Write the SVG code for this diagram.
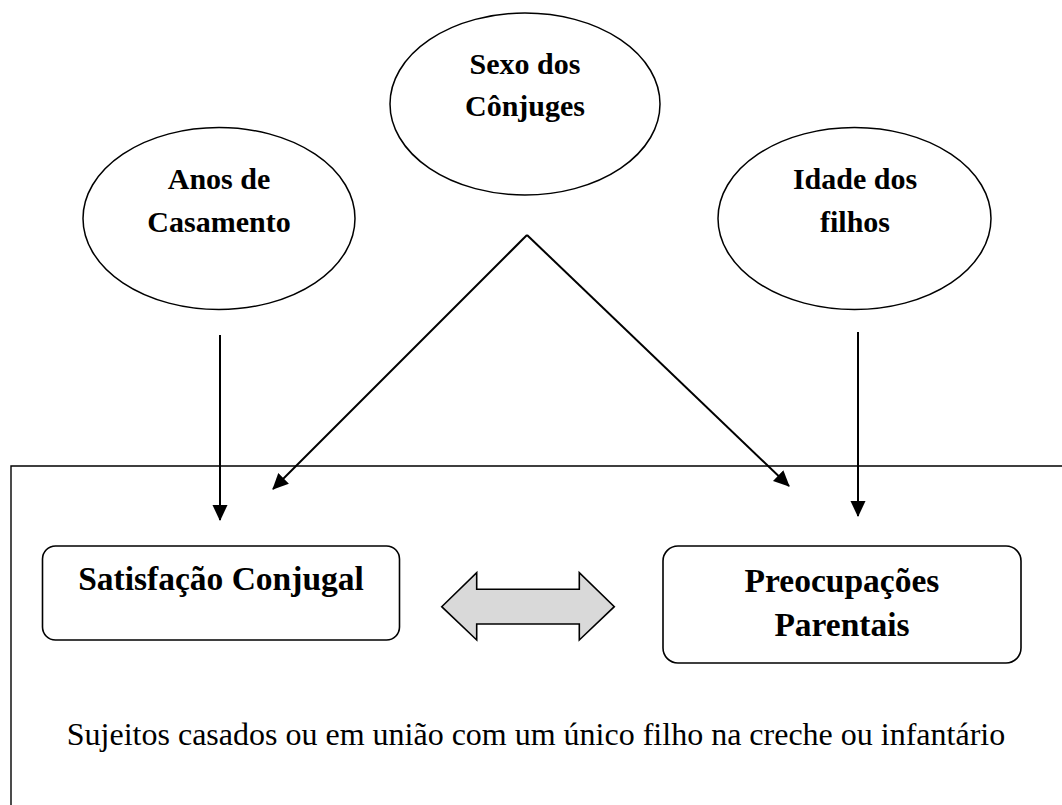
<svg xmlns="http://www.w3.org/2000/svg" width="1062" height="805" viewBox="0 0 1062 805">
<style>
  .ell { fill: #ffffff; stroke: #000000; stroke-width: 1.5; }
  .box { fill: #ffffff; stroke: #000000; stroke-width: 1.6; }
  .lbl { font-family: "Liberation Serif", "Times New Roman", serif; font-weight: bold; text-anchor: middle; fill: #000000; }
  .conn { stroke: #000000; stroke-width: 2; fill: none; marker-end: url(#ah); }
  .note { font-family: "Liberation Serif", "Times New Roman", serif; font-size: 32px; text-anchor: middle; fill: #000000; }
</style>
<defs>
  <marker id="ah" markerUnits="userSpaceOnUse" markerWidth="16" markerHeight="16" viewBox="0 0 16 16" refX="15" refY="8" orient="auto">
    <path d="M0,0.5 L16,8 L0,15.5 z" fill="#000000"/>
  </marker>
</defs>
<rect width="1062" height="805" fill="#ffffff"/>
<g id="frame">
  <path d="M1070,466 L11,466 L11,815" fill="none" stroke="#000000" stroke-width="1.4"/>
</g>
<g id="node-anos">
  <ellipse class="ell" cx="219" cy="218.5" rx="136" ry="91"/>
  <text class="lbl" font-size="30" x="219" y="189">Anos de</text>
  <text class="lbl" font-size="30" x="219" y="231.5">Casamento</text>
</g>
<g id="node-sexo">
  <ellipse class="ell" cx="525" cy="104" rx="135" ry="91"/>
  <text class="lbl" font-size="30" x="525" y="74">Sexo dos</text>
  <text class="lbl" font-size="30" x="525" y="115.5">Cônjuges</text>
</g>
<g id="node-idade">
  <ellipse class="ell" cx="854.5" cy="218.5" rx="136.5" ry="91"/>
  <text class="lbl" font-size="30" x="855" y="189">Idade dos</text>
  <text class="lbl" font-size="30" x="855" y="231.5">filhos</text>
</g>
<g id="node-satisfacao">
  <rect class="box" x="42.5" y="546" width="357" height="94" rx="13" ry="13"/>
  <text class="lbl" font-size="33.5" x="221" y="590">Satisfação Conjugal</text>
</g>
<g id="node-preocupacoes">
  <rect class="box" x="663" y="546" width="358" height="117" rx="15" ry="15"/>
  <text class="lbl" font-size="33.5" x="842" y="592">Preocupações</text>
  <text class="lbl" font-size="33.5" x="842" y="636">Parentais</text>
</g>
<g id="node-note">
  <text class="note" x="536" y="745">Sujeitos casados ou em união com um único filho na creche ou infantário</text>
</g>
<g id="connectors">
  <line class="conn" x1="220" y1="335" x2="220" y2="520"/>
  <line class="conn" x1="858" y1="332" x2="858" y2="516"/>
  <line class="conn" x1="527" y1="235" x2="273" y2="489"/>
  <line class="conn" x1="527" y1="235" x2="789" y2="486"/>
  <path id="double-arrow" d="M441.7,606.7 L476.7,572.7 L476.7,589.3 L579.3,589.3 L579.3,572.7 L614.3,606.7 L579.3,640 L579.3,624 L476.7,624 L476.7,640 Z" fill="#d9d9d9" stroke="#000000" stroke-width="1.6" stroke-linejoin="miter"/>
</g>
</svg>
